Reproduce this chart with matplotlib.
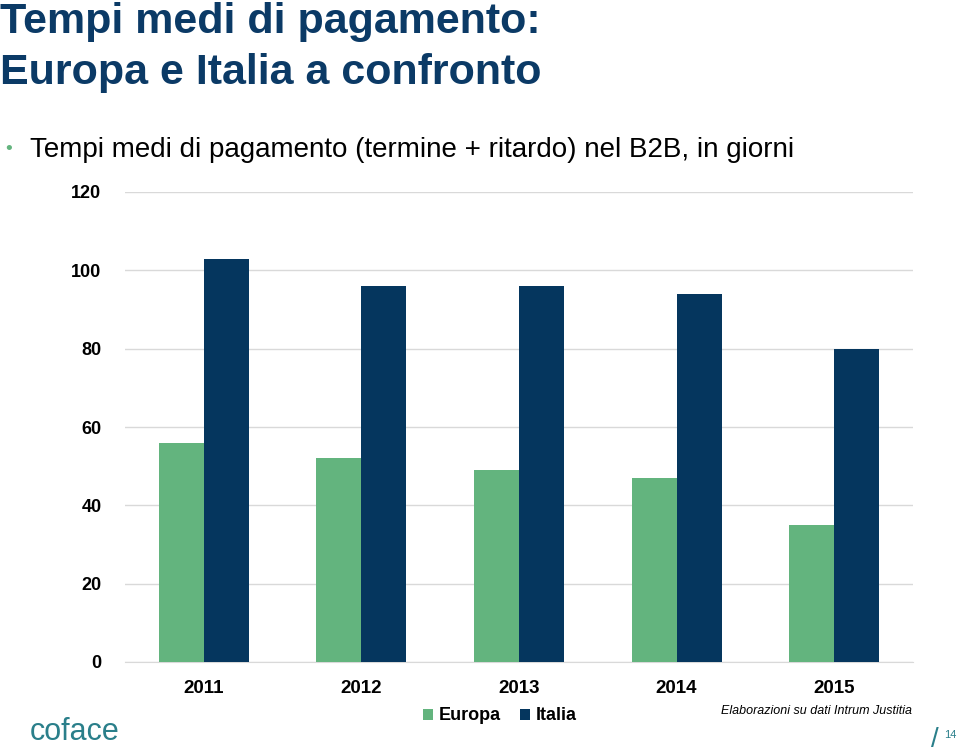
import matplotlib
matplotlib.use("Agg")
import matplotlib.pyplot as plt
import numpy as np

plt.rcParams['font.family'] = ['Liberation Sans', 'DejaVu Sans']

years = ['2011', '2012', '2013', '2014', '2015']
europa = [56, 52, 49, 47, 35]
italia = [103, 96, 96, 94, 80]
yticks = [0, 20, 40, 60, 80, 100, 120]

c_eu = '#63b47e'
c_it = '#05365e'
c_title = '#0b3a66'

W, H = 960, 754
fig = plt.figure(figsize=(W/100, H/100), dpi=100)
ax = fig.add_axes([125/W, (H-662)/H, (913-125)/W, (662-192)/H])

x = np.arange(len(years))
bw = 0.286
ax.bar(x - bw/2, europa, bw, color=c_eu, label='Europa', zorder=3)
ax.bar(x + bw/2, italia, bw, color=c_it, label='Italia', zorder=3)
ax.set_xlim(-0.5, len(years) - 0.5)
ax.set_ylim(0, 120)
ax.set_yticks(yticks)
ax.set_yticklabels([str(v) for v in yticks], fontsize=13, fontweight='bold')
ax.set_xticks(x)
ax.set_xticklabels(years, fontsize=13.5, fontweight='bold')
ax.tick_params(axis='y', length=0, pad=17)
ax.tick_params(axis='x', length=0, pad=13)
ax.grid(axis='y', color='#d9d9d9', linewidth=1, zorder=0)
for s in ['top', 'right', 'left']:
    ax.spines[s].set_visible(False)
ax.spines['bottom'].set_color('#d9d9d9')

leg = fig.legend(loc='center', bbox_to_anchor=(500/W, (H-716)/H), ncol=2, frameon=False,
                 prop={'size': 13, 'weight': 'bold'}, handlelength=0.55, handleheight=0.55,
                 handletextpad=0.3, columnspacing=1.1)

fig.text(0/W, (H-22)/H, 'Tempi medi di pagamento:', fontsize=31, fontweight='bold',
         color=c_title, va='center', ha='left')
fig.text(0/W, (H-73)/H, 'Europa e Italia a confronto', fontsize=31, fontweight='bold',
         color=c_title, va='center', ha='left')
fig.text(5/W, (H-150)/H, '•', fontsize=14, color=c_eu, va='center', ha='left')
fig.text(30/W, (H-150)/H, 'Tempi medi di pagamento (termine + ritardo) nel B2B, in giorni',
         fontsize=20, color='black', va='center', ha='left')

fig.text(912/W, (H-711)/H, 'Elaborazioni su dati Intrum Justitia', fontsize=9,
         style='italic', color='black', va='center', ha='right')
fig.text(30/W, (H-732)/H, 'coface', fontsize=22, color='#2a7f8a', va='center', ha='left')
fig.text(935/W, (H-740)/H, '/', fontsize=20, color='#2a7f8a', va='center', ha='center')
fig.text(950/W, (H-735)/H, '14', fontsize=8, color='#2a7f8a', va='center', ha='center')

fig.savefig('out.png', dpi=100)
